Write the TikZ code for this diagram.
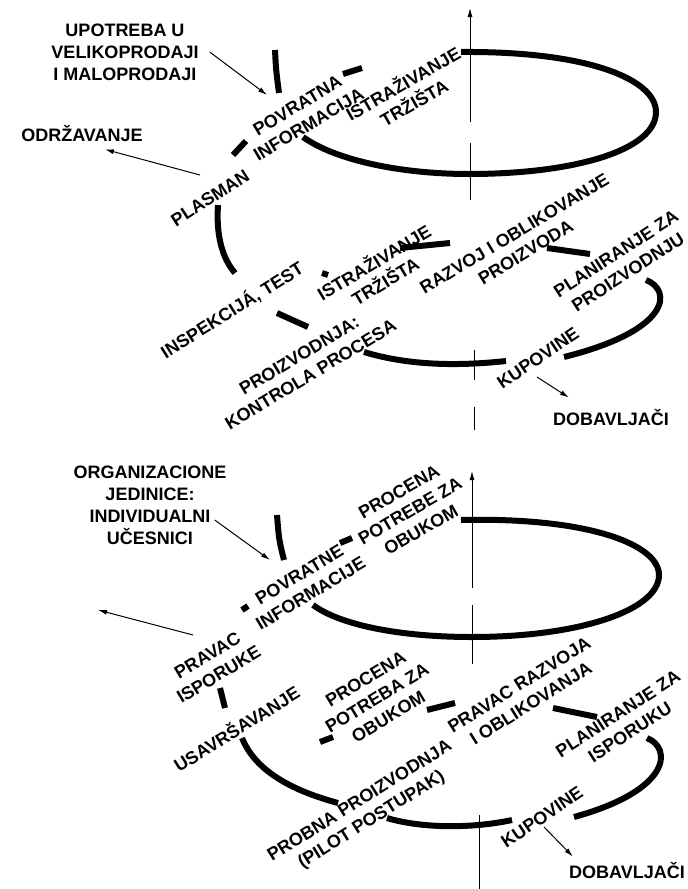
\documentclass[tikz,border=0pt]{standalone}
\usepackage{fontspec}
\setsansfont{Liberation Sans}
\usetikzlibrary{arrows.meta}

\tikzset{
  >={Latex[length=9pt,width=5pt]},
  txt/.style={font=\sffamily\bfseries\fontsize{18}{22}\selectfont,align=center,inner sep=1pt},
  slant/.style={txt,rotate=#1},
  brush/.style={line width=6pt},
  spine/.style={line width=1pt},
  pointer/.style={->,line width=1pt}
}

\begin{document}
\begin{tikzpicture}[x=1pt,y=-1pt]
        \useasboundingbox (0,0) rectangle (688,889);

        % upper spiral
        \draw[spine] (470,200) -- (470,143);
        \draw[spine,->] (470,122) -- (470,8);
        \draw[spine] (474,350) -- (474,380);
        \draw[spine] (474,407) -- (474,430);

        \draw[brush] (461,52) .. controls (590,51) and (656,80) .. (656,112) .. controls (656,150) and (575,174) .. (469,174) .. controls (400,174) and (335,160) .. (303,137);
        \draw[brush] (275,50) .. controls (276,70) .. (279,93);
        \draw[brush] (343,74) -- (362,68);
        \draw[brush] (233,155) -- (246,141);
        \draw[brush] (218,205) .. controls (216,235) and (222,258) .. (235,273);
        \draw[brush] (277,313) -- (308,327);
        \draw[brush] (322,273) -- (328,275);
        \draw[brush] (400,248) -- (450,243);
        \draw[brush] (547,248) -- (590,254);
        \draw[brush] (646,280) .. controls (672,290) and (672,330) .. (564,357);
        \draw[brush] (364,352) .. controls (410,366) and (460,366) .. (506,361);

        \node[txt] (upotreba) at (125,52) {UPOTREBA U\\VELIKOPRODAJI\\I MALOPRODAJI};
        \node[txt] (odrzavanje) at (82,134) {ODRŽAVANJE};
        \node[slant=31] (povratna) at (303,115) {POVRATNA\\INFORMACIJA};
        \node[slant=30] (trzisteTop) at (408,92) {ISTRAŽIVANJE\\TRŽIŠTA};
        \node[slant=33] (plasman) at (210,198) {PLASMAN};
        \node[slant=32] (inspekcija) at (232,310) {INSPEKCIJÁ, TEST};
        \node[slant=31] (trzisteLow) at (379,271) {ISTRAŽIVANJE\\TRŽIŠTA};
        \node[slant=31] (razvoj) at (520,243) {RAZVOJ I OBLIKOVANJE\\PROIZVODA};
        \node[slant=33] (planiranje) at (622,263) {PLANIRANJE ZA\\PROIZVODNJU};
        \node[slant=31] (proizvodnja) at (305,365) {PROIZVODNJA:\\KONTROLA PROCESA};
        \node[slant=34] (kupovine) at (538,358) {KUPOVINE};
        \node[txt] (dobavljaci) at (611,418) {DOBAVLJAČI};

        \coordinate (povratnaIn) at (267,95);
        \coordinate (plasmanOut) at (200,175);
        \coordinate (kupovineOut) at (537,377);
        \draw[pointer] ([xshift=10pt]upotreba.east) -- (povratnaIn);
        \draw[pointer] (plasmanOut) -- ([xshift=-39pt,yshift=-6pt]odrzavanje.south east);
        \draw[pointer] (kupovineOut) -- ([xshift=17pt,yshift=11pt]dobavljaci.north west);

        % lower spiral
        \draw[spine] (472,664) -- (472,605);
        \draw[spine,->] (472,588) -- (472,471);
        \draw[spine] (479,815) -- (479,889);

        \draw[brush] (461,520) .. controls (590,517) and (659,545) .. (659,575) .. controls (659,610) and (580,637) .. (472,637) .. controls (400,637) and (340,625) .. (313,605);
        \draw[brush] (277,515) .. controls (279,540) .. (284,560);
        \draw[brush] (340,543) -- (352,538);
        \draw[brush] (242,610) -- (248,606);
        \draw[brush] (220,688) -- (225,708);
        \draw[brush] (242,738) .. controls (255,770) and (290,790) .. (338,803);
        \draw[brush] (320,742) -- (333,737);
        \draw[brush] (427,710) -- (455,703);
        \draw[brush] (553,708) -- (597,717);
        \draw[brush] (647,738) .. controls (672,748) and (672,790) .. (574,817);
        \draw[brush] (387,818) .. controls (420,828) and (470,829) .. (512,820);

        \node[txt] (jedinice) at (150,505) {ORGANIZACIONE\\JEDINICE:\\INDIVIDUALNI\\UČESNICI};
        \node[slant=31] (povratne) at (305,584) {POVRATNE\\INFORMACIJE};
        \node[slant=30] (potrebeTop) at (410,511) {PROCENA\\POTREBE ZA\\OBUKOM};
        \node[slant=31] (isporuka) at (213,665) {PRAVAC\\ISPORUKE};
        \node[slant=32] (usavrsavanje) at (236,728) {USAVRŠAVANJE};
        \node[slant=31] (potrebeLow) at (377,698) {PROCENA\\POTREBA ZA\\OBUKOM};
        \node[slant=32] (pravacRazvoja) at (525,694) {PRAVAC RAZVOJA\\I OBLIKOVANJA};
        \node[slant=32] (probna) at (366,811) {PROBNA PROIZVODNJA\\(PILOT POSTUPAK)};
        \node[slant=33] (planIsporuke) at (624,723) {PLANIRANJE ZA\\ISPORUKU};
        \node[slant=34] (kupovine2) at (542,817) {KUPOVINE};
        \node[txt] (dobavljaci2) at (627,871) {DOBAVLJAČI};

        \coordinate (povratneIn) at (270,560);
        \coordinate (isporukaOut) at (193,635);
        \coordinate (isporukaGoal) at (98,610);
        \coordinate (kupovine2Out) at (544,827);
        \draw[pointer] ([xshift=-13pt,yshift=-15pt]jedinice.east) -- (povratneIn);
        \draw[pointer] (isporukaOut) -- (isporukaGoal);
        \draw[pointer] (kupovine2Out) -- ([xshift=5pt,yshift=5pt]dobavljaci2.north west);
\end{tikzpicture}
\end{document}
